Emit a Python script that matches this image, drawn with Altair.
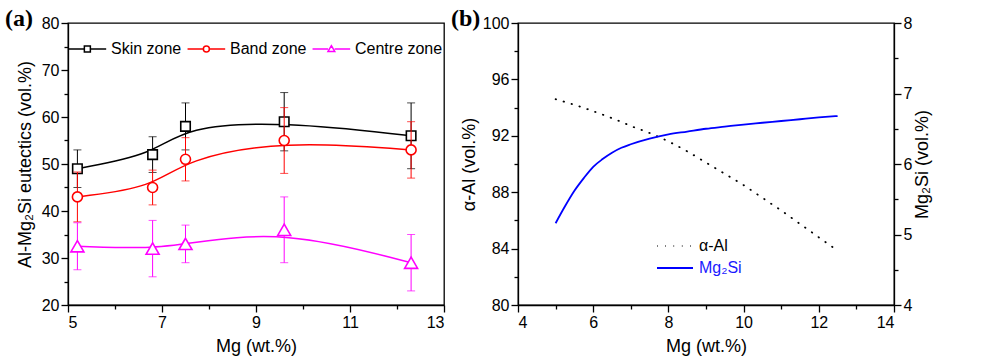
import altair as alt
import pandas as pd

# ---------------- panel (a) data ----------------
mg_a = [5.2, 6.8, 7.5, 9.6, 12.3]
zones = ["Skin zone", "Band zone", "Centre zone"]
skin = [49.0, 52.0, 58.0, 59.0, 56.0]
skin_err = [4.0, 3.8, 5.0, 6.2, 7.0]
band = [43.0, 45.0, 51.0, 55.0, 53.0]
band_err = [5.3, 3.7, 4.6, 7.0, 6.0]
centre = [32.5, 32.0, 33.0, 36.0, 29.0]
centre_err = [5.0, 6.0, 4.0, 7.0, 6.0]

# ---------------- panel (b) data ----------------
mg_b = [5.0, 5.25, 5.5, 5.75, 6.0, 6.25, 6.5, 6.75, 7.0, 7.5, 8.0, 8.5,
        9.0, 9.5, 10.0, 10.5, 11.0, 11.5, 12.0, 12.5]
alpha_al = [94.6, 94.4, 94.2, 93.98, 93.75, 93.5, 93.25, 92.98, 92.7, 92.2,
            91.6, 90.9, 90.1, 89.3, 88.5, 87.6, 86.7, 85.75, 84.8, 83.85]
mg2si = [5.16, 5.40, 5.62, 5.80, 5.96, 6.07, 6.16, 6.23, 6.28, 6.36,
         6.42, 6.46, 6.50, 6.53, 6.56, 6.585, 6.61, 6.635, 6.66, 6.68]
series_b = ["α-Al", "Mg₂Si"]
panel_labels = ["(a)", "(b)"]

# ---------------- styles ----------------
FONT = "Liberation Sans"
W, H = 376, 282
zone_colors = ["#000000", "#ff0000", "#ff00ff"]
zone_shapes = ["square", "circle", "triangle-up"]
zone_sizes = [90, 100, 169]
legend_paths = [
    "M-1,0H1.9M3,0H5.9M1.9,-0.55H3V0.55H1.9Z",
    "M-1,0H1.9M3,0H5.9M1.9,0A0.55,0.55 0 1,0 3,0A0.55,0.55 0 1,0 1.9,0Z",
    "M-1,0H1.85M3.05,0H5.9M2.45,-0.6L3.07,0.45H1.83Z",
]


def tick_size(test):
    return {"condition": {"test": test, "value": 4}, "value": 7}


def panel_label(text, dx):
    return alt.Chart(alt.Data(values=[{"label": text}])).mark_text(
        font="Liberation Serif", fontSize=24, fontWeight="bold", color="black",
        align="left", baseline="alphabetic"
    ).encode(x=alt.value(dx), y=alt.value(3), text="label:N")


# ---------------- panel (a) ----------------
x_axis_a = alt.Axis(values=list(range(5, 14)),
                    labelExpr="datum.value % 2 == 1 ? datum.label : ''",
                    tickSize=tick_size("datum.value % 2 == 0"),
                    title="Mg (wt.%)", titlePadding=7)
y_axis_a = alt.Axis(values=list(range(20, 81, 5)),
                    labelExpr="datum.value % 10 == 0 ? datum.label : ''",
                    tickSize=tick_size("datum.value % 10 != 0"),
                    title="Al-Mg₂Si eutectics (vol.%)", titlePadding=7)
x_scale_a = alt.Scale(domain=[5, 13], nice=False, zero=False)
y_scale_a = alt.Scale(domain=[20, 80], nice=False, zero=False)


def xa():
    return alt.X("mg:Q", scale=x_scale_a, axis=x_axis_a)


def ya(field):
    return alt.Y(field + ":Q", scale=y_scale_a, axis=y_axis_a)


layers_a = []
for vals, errs, c, shp, sz in zip([skin, band, centre],
                                  [skin_err, band_err, centre_err],
                                  zone_colors, zone_shapes, zone_sizes):
    df = pd.DataFrame({
        "mg": mg_a,
        "val": vals,
        "lo": [v - e for v, e in zip(vals, errs)],
        "hi": [v + e for v, e in zip(vals, errs)],
    })
    base = alt.Chart(df)
    layers_a.append(base.mark_line(color=c, strokeWidth=1.5, interpolate="basis")
                    .encode(x=xa(), y=ya("val")))
    layers_a.append(base.mark_rule(color=c, strokeWidth=1)
                    .encode(x=xa(), y=ya("lo"), y2="hi:Q"))
    layers_a.append(base.mark_tick(color=c, orient="horizontal", size=8, thickness=1)
                    .encode(x=xa(), y=ya("lo")))
    layers_a.append(base.mark_tick(color=c, orient="horizontal", size=8, thickness=1)
                    .encode(x=xa(), y=ya("hi")))
    layers_a.append(base.mark_point(shape=shp, size=sz, filled=True, fill="white",
                                    stroke=c, strokeWidth=1.6, opacity=1)
                    .encode(x=xa(), y=ya("val")))

leg_a = alt.Legend(title=None, orient="none", direction="horizontal",
                   legendX=-2, legendY=18, padding=0, symbolSize=119,
                   symbolStrokeWidth=1.5, labelOffset=29, columnPadding=2,
                   gridAlign="each",
                   labelFontSize=16, labelFont=FONT, labelColor="black")
leg_df = pd.DataFrame({"zone": pd.Series([], dtype=str)})
layers_a.append(
    alt.Chart(leg_df).mark_point(filled=False, strokeWidth=1.5, opacity=1, size=119)
    .encode(color=alt.Color("zone:N", scale=alt.Scale(domain=zones, range=zone_colors), legend=leg_a),
            shape=alt.Shape("zone:N", scale=alt.Scale(domain=zones, range=legend_paths), legend=leg_a))
)
layers_a.append(panel_label(panel_labels[0], -63))

chart_a = alt.layer(*layers_a).properties(width=W, height=H)

# ---------------- panel (b) ----------------
dfb = pd.DataFrame({"mg": mg_b, "alpha": alpha_al, "mg2si": mg2si,
                    "s1": series_b[0], "s2": series_b[1]})
x_b = alt.X("mg:Q", scale=alt.Scale(domain=[4, 14], nice=False, zero=False),
            axis=alt.Axis(values=list(range(4, 15)),
                          labelExpr="datum.value % 2 == 0 ? datum.label : ''",
                          tickSize=tick_size("datum.value % 2 == 1"),
                          title="Mg (wt.%)", titlePadding=7))

alpha_line = alt.Chart(dfb).mark_line(color="black", strokeWidth=1.8, strokeCap="round",
                                      interpolate="monotone").encode(
    x=x_b,
    y=alt.Y("alpha:Q", scale=alt.Scale(domain=[80, 100], nice=False, zero=False),
            axis=alt.Axis(values=list(range(80, 101, 2)),
                          labelExpr="datum.value % 4 == 0 ? datum.label : ''",
                          tickSize=tick_size("datum.value % 4 != 0"),
                          title="α-Al (vol.%)", titlePadding=4)),
    strokeDash=alt.StrokeDash("s1:N", scale=alt.Scale(domain=[series_b[0]], range=[[0.5, 7.8]]),
                              legend=alt.Legend(title=None, orient="none", legendX=138, legendY=204,
                                                padding=0, symbolType="stroke", symbolSize=1296,
                                                symbolStrokeWidth=1.8, symbolStrokeColor="black",
                                                labelOffset=5, labelFontSize=16, labelFont=FONT,
                                                labelColor="black")),
)

mg_line = alt.Chart(dfb).mark_line(strokeWidth=1.8, interpolate="monotone").encode(
    x=x_b,
    y=alt.Y("mg2si:Q", scale=alt.Scale(domain=[4, 8], nice=False, zero=False),
            axis=alt.Axis(orient="right", values=[4, 4.5, 5, 5.5, 6, 6.5, 7, 7.5, 8],
                          format=".1f",
                          labelExpr="datum.value % 1 == 0 ? format(datum.value, 'd') : ''",
                          tickSize=tick_size("datum.value % 1 != 0"),
                          title="Mg₂Si (vol.%)", titleAngle=270, titleBaseline="top",
                          titlePadding=2)),
    color=alt.Color("s2:N", scale=alt.Scale(domain=[series_b[1]], range=["#0000ff"]),
                    legend=alt.Legend(title=None, orient="none", legendX=138, legendY=226,
                                      padding=0, symbolType="stroke", symbolSize=1296,
                                      symbolStrokeWidth=1.8, labelOffset=5, labelFontSize=16,
                                      labelFont=FONT, labelColor="#1a1aff")),
)

chart_b = alt.layer(alpha_line, mg_line, panel_label(panel_labels[1], -67)).resolve_scale(
    y="independent").properties(width=W, height=H)

chart = alt.hconcat(chart_a, chart_b, spacing=4).resolve_scale(
    color="independent", shape="independent", strokeDash="independent"
).resolve_legend(
    color="independent", shape="independent", strokeDash="independent"
).properties(
    padding={"left": 4, "top": 6, "right": 0, "bottom": 0}
).configure_view(stroke="black", strokeWidth=1.3).configure_axis(
    labelFont=FONT, titleFont=FONT, labelFontSize=16, titleFontSize=18,
    titleFontWeight="normal", labelColor="black", titleColor="black",
    domainColor="black", tickColor="black", domainWidth=1.3, tickWidth=1.3,
    grid=False, labelPadding=2,
).configure_legend(labelFont=FONT, labelFontSize=16)

chart.save("out.html", embed_options={"renderer": "svg", "actions": False})
